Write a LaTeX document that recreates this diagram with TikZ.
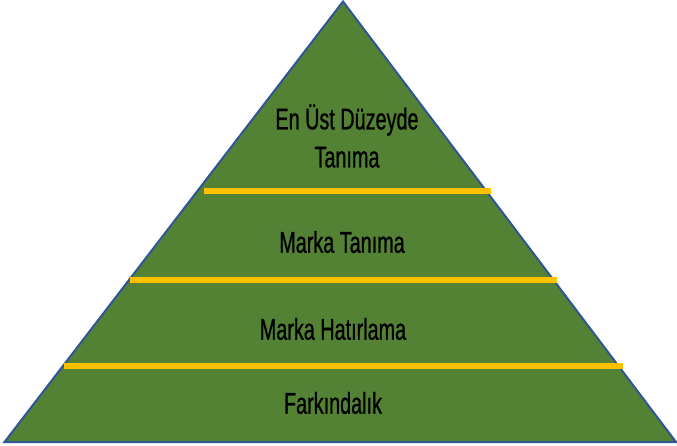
\documentclass[tikz,border=0pt]{standalone}
\usepackage{fontspec}
\setmainfont[FakeStretch=0.66,FakeBold=0.8]{Liberation Sans}
\definecolor{pyrgreen}{HTML}{548235}
\definecolor{pyredge}{HTML}{2F5597}
\definecolor{bandline}{HTML}{FFC000}
\begin{document}
\begin{tikzpicture}[x=1pt,y=-1pt,
  level/.style={font=\fontsize{30}{34}\selectfont, text=black, align=center, inner sep=0pt},
  divider/.style={draw=bandline, line width=6pt}]
\useasboundingbox (0,0) rectangle (677,446);
% pyramid body
\coordinate (apex) at (343,1.5);
\coordinate (bl) at (4.5,442);
\coordinate (br) at (676,442);
\fill[pyrgreen] (apex) -- (br) -- (bl) -- cycle;
\draw[pyredge, line width=2pt, line join=miter] (apex) -- (br) -- (bl) -- cycle;
% dividers between the levels
\coordinate (d1l) at (204,191); \coordinate (d1r) at (491,191);
\coordinate (d2l) at (130,280); \coordinate (d2r) at (557,280);
\coordinate (d3l) at (64,366);  \coordinate (d3r) at (623,366);
\draw[divider] (d1l) -- (d1r);
\draw[divider] (d2l) -- (d2r);
\draw[divider] (d3l) -- (d3r);
% level labels
\node[level] (top) at (347,136) {En Üst Düzeyde\\[4pt]Tanıma};
\node[level] (recog) at (342,242) {Marka Tanıma};
\node[level] (recall) at (333,329) {Marka Hatırlama};
\node[level] (aware) at (333,403) {Farkındalık};
\end{tikzpicture}
\end{document}
